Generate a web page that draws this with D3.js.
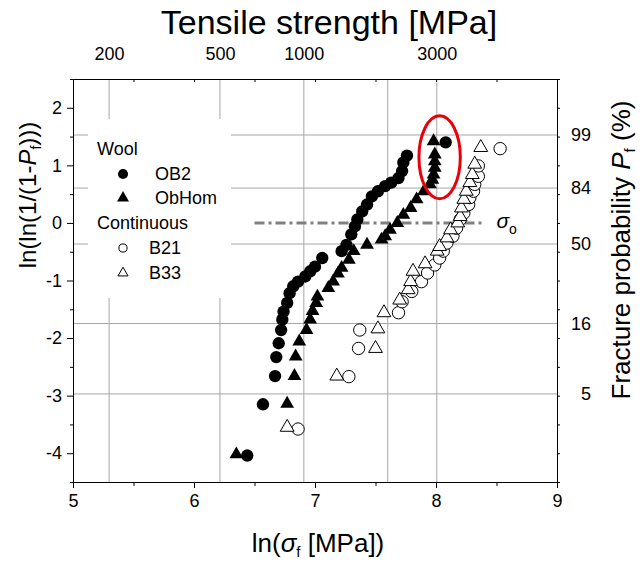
<!DOCTYPE html>
<html>
<head>
<meta charset="utf-8">
<script src="https://cdn.jsdelivr.net/npm/d3@7"></script>
<style>
  body { margin: 0; background: #fff; }
  svg { font-family: "Liberation Sans", Arial, sans-serif; }
  .axis path, .axis line { stroke: #000; stroke-width: 1; }
  .axis text { font-size: 18px; fill: #000; font-family: "Liberation Sans", Arial, sans-serif; }
  .grid line { stroke: #a6a6a6; stroke-width: 1; }
</style>
</head>
<body>
<div id="chart"></div>
<script>
// x = ln(strength in MPa), y = ln(ln(1/(1-Pf)))
var ob2X = [6.44, 6.57, 6.67, 6.68, 6.70, 6.72, 6.73, 6.74, 6.77, 6.79, 6.82, 6.86, 6.92, 6.96, 7.00, 7.06,
            7.22, 7.26, 7.30, 7.33, 7.35, 7.39, 7.43, 7.47, 7.52, 7.58, 7.63, 7.69, 7.72, 7.73, 7.76, 8.08];
var ob2Y = [-4.04, -3.15, -2.66, -2.33, -2.09, -1.86, -1.68, -1.54, -1.39, -1.22, -1.10, -1.02, -0.93, -0.84, -0.76, -0.61,
            -0.49, -0.38, -0.20, -0.06, 0.06, 0.20, 0.32, 0.46, 0.55, 0.64, 0.70, 0.78, 0.90, 1.05, 1.17, 1.40];

var obhomX = [6.35, 6.77, 6.83, 6.84, 6.87, 6.93, 6.96, 6.98, 7.01, 7.02, 7.11, 7.15, 7.19, 7.22, 7.28, 7.32,
              7.43, 7.55, 7.58, 7.62, 7.68, 7.73, 7.79, 7.84, 7.90, 7.95, 7.97, 7.98, 7.99, 7.99, 7.99, 7.98];
var obhomY = [-4.02, -3.14, -2.66, -2.32, -2.06, -1.86, -1.68, -1.53, -1.39, -1.28, -1.13, -1.02, -0.88, -0.78, -0.64, -0.49,
              -0.38, -0.29, -0.23, -0.12, 0.00, 0.14, 0.26, 0.41, 0.55, 0.67, 0.75, 0.84, 0.96, 1.07, 1.19, 1.42];

var b21X = [6.86, 7.28, 7.36, 7.37, 7.69, 7.72, 7.80, 7.88, 7.93, 7.99, 8.03, 8.06,
            8.09, 8.14, 8.17, 8.20, 8.23, 8.27, 8.28, 8.31, 8.32, 8.35, 8.35, 8.53];
var b21Y = [-3.58, -2.67, -2.18, -1.86, -1.56, -1.37, -1.19, -1.02, -0.87, -0.73, -0.61, -0.49,
            -0.35, -0.23, -0.09, 0.06, 0.17, 0.32, 0.44, 0.55, 0.67, 0.81, 0.99, 1.29];

var b33X = [6.77, 7.18, 7.50, 7.52, 7.57, 7.70, 7.77, 7.79, 7.81, 7.91, 8.01, 8.03,
            8.09, 8.12, 8.18, 8.20, 8.21, 8.23, 8.25, 8.28, 8.30, 8.32, 8.37];
var b33Y = [-3.55, -2.66, -2.18, -1.84, -1.56, -1.34, -1.16, -1.02, -0.84, -0.71, -0.49, -0.41,
            -0.26, -0.12, 0.00, 0.11, 0.26, 0.41, 0.55, 0.70, 0.84, 1.02, 1.31];

// top axis (MPa) and right axis (Pf %)
var topLabels = [200, 500, 1000, 3000];
var topGrid = [200, 500, 1000, 2000, 3000];
var probTicks = [99, 84, 50, 16, 5];

// sigma_o line and the marked group
var sigmaLine = {x0: 6.5, x1: 8.4, y: 0};
var mark = {cx: 8.03, cy: 1.14, rx: 0.171, ry: 0.72};

var width = 642, height = 562;
var margin = {top: 79, right: 85, bottom: 80, left: 73};

var svg = d3.select("#chart").append("svg")
    .attr("width", width)
    .attr("height", height);

var x = d3.scaleLinear().domain([5, 9]).range([margin.left, width - margin.right]);
var y = d3.scaleLinear().domain([-4.5, 2.5]).range([height - margin.bottom, margin.top]);

function weib(p) { return Math.log(-Math.log(1 - p / 100)); }

// grid
var grid = svg.append("g").attr("class", "grid");
grid.selectAll(".gv").data(topGrid).enter().append("line")
    .attr("x1", function(d) { return x(Math.log(d)); })
    .attr("x2", function(d) { return x(Math.log(d)); })
    .attr("y1", y(2.5)).attr("y2", y(-4.5));
grid.selectAll(".gh").data(probTicks).enter().append("line")
    .attr("x1", x(5)).attr("x2", x(9))
    .attr("y1", function(d) { return y(weib(d)); })
    .attr("y2", function(d) { return y(weib(d)); });

// legend background hides the grid
svg.append("rect")
    .attr("x", 88).attr("y", 119).attr("width", 143).attr("height", 179)
    .attr("fill", "#fff");

// axes
var halfs = d3.range(-4.5, 2.51, 0.5);
var ints = d3.range(-4, 2.01, 1);

svg.append("g").attr("class", "axis")
    .attr("transform", "translate(" + x(5) + ",0)")
    .call(d3.axisLeft(y).tickValues(halfs.filter(function(d) { return d % 1 !== 0; }))
        .tickSize(3).tickSizeOuter(0).tickFormat(""));
svg.append("g").attr("class", "axis")
    .attr("transform", "translate(" + x(5) + ",0)")
    .call(d3.axisLeft(y).tickValues(ints).tickSize(6).tickSizeOuter(0).tickPadding(5)
        .tickFormat(function(d) { return String(d); }));

svg.append("g").attr("class", "axis")
    .attr("transform", "translate(0," + y(-4.5) + ")")
    .call(d3.axisBottom(x).tickValues([5.5, 6.5, 7.5, 8.5]).tickSize(4).tickSizeOuter(0).tickFormat(""));
svg.append("g").attr("class", "axis")
    .attr("transform", "translate(0," + y(-4.5) + ")")
    .call(d3.axisBottom(x).tickValues([5, 6, 7, 8, 9]).tickSize(6).tickSizeOuter(0).tickPadding(6)
        .tickFormat(d3.format("d")));

svg.append("g").attr("class", "axis")
    .attr("transform", "translate(0," + y(2.5) + ")")
    .call(d3.axisBottom(x).tickValues(d3.range(5.5, 8.51, 0.5)).tickSize(3).tickSizeOuter(0).tickFormat(""));
svg.append("g").attr("class", "axis")
    .attr("transform", "translate(0," + y(2.5) + ")")
    .call(d3.axisTop(x).tickValues(topLabels.map(function(d) { return Math.log(d); }))
        .tickSize(0).tickSizeOuter(0).tickPadding(19)
        .tickFormat(function(d) { return String(Math.round(Math.exp(d))); }))
    .select(".domain").remove();

svg.append("g").attr("class", "axis")
    .attr("transform", "translate(" + x(9) + ",0)")
    .call(d3.axisRight(y).tickValues(halfs).tickSize(3).tickSizeOuter(0).tickFormat(""));
svg.append("g").attr("class", "axis")
    .selectAll("text").data(probTicks).enter().append("text")
    .attr("x", x(9) + 34)
    .attr("y", function(d) { return y(weib(d)); })
    .attr("dy", "0.35em")
    .attr("text-anchor", "end")
    .text(function(d) { return d; });

// titles
svg.append("text")
    .attr("x", 329).attr("y", 34)
    .attr("text-anchor", "middle")
    .style("font-size", "34px")
    .text("Tensile strength [MPa]");

var xt = svg.append("text")
    .attr("x", 318).attr("y", 552)
    .attr("text-anchor", "middle")
    .style("font-size", "26px");
xt.append("tspan").text("ln(");
xt.append("tspan").style("font-style", "italic").text("\u03c3");
xt.append("tspan").attr("dy", 5).style("font-size", "15px").text("f");
xt.append("tspan").attr("dy", -5).text(" [MPa])");

var yt = svg.append("text")
    .attr("transform", "translate(36,195) rotate(-90)")
    .attr("text-anchor", "middle")
    .style("font-size", "24px");
yt.append("tspan").text("ln(ln(1/(1-");
yt.append("tspan").style("font-style", "italic").text("P");
yt.append("tspan").attr("dy", 5).style("font-size", "14px").text("f");
yt.append("tspan").attr("dy", -5).text(")))");

var rt = svg.append("text")
    .attr("transform", "translate(630,250) rotate(-90)")
    .attr("text-anchor", "middle")
    .style("font-size", "26px");
rt.append("tspan").text("Fracture probability ");
rt.append("tspan").style("font-style", "italic").text("P");
rt.append("tspan").attr("dy", 5).style("font-size", "15px").text("f");
rt.append("tspan").attr("dy", -5).text(" (%)");

// sigma_o reference line
svg.append("line")
    .attr("x1", x(sigmaLine.x0)).attr("x2", x(sigmaLine.x1))
    .attr("y1", y(sigmaLine.y)).attr("y2", y(sigmaLine.y))
    .attr("stroke", "#808080").attr("stroke-width", 3)
    .attr("stroke-dasharray", "10,4,3,4");
var so = svg.append("text")
    .attr("x", x(sigmaLine.x1) + 12).attr("y", y(sigmaLine.y) + 5)
    .style("font-size", "21px");
so.append("tspan").style("font-style", "italic").text("\u03c3");
so.append("tspan").attr("dy", 6).style("font-size", "14px").text("o");

// series
function series(xs, ys, type, size, filled) {
  var pts = xs.map(function(d, i) { return [d, ys[i]]; });
  svg.append("g").selectAll("path").data(pts).enter().append("path")
      .attr("transform", function(d) { return "translate(" + x(d[0]) + "," + y(d[1]) + ")"; })
      .attr("d", d3.symbol().type(type).size(size))
      .attr("fill", filled ? "#000" : "#fff")
      .attr("stroke", "#000")
      .attr("stroke-width", filled ? 0 : 1);
}
series(b21X, b21Y, d3.symbolCircle, 120, false);
series(b33X, b33Y, d3.symbolTriangle, 82, false);
series(ob2X, ob2Y, d3.symbolCircle, 120, true);
series(obhomX, obhomY, d3.symbolTriangle, 82, true);

// red ellipse
svg.append("ellipse")
    .attr("cx", x(mark.cx)).attr("cy", y(mark.cy))
    .attr("rx", x(mark.cx + mark.rx) - x(mark.cx))
    .attr("ry", y(mark.cy) - y(mark.cy + mark.ry))
    .attr("fill", "none").attr("stroke", "#e8000b").attr("stroke-width", 3);

// legend
var legend = svg.append("g").style("font-size", "18px");
var items = [
  {label: "Wool", tx: 97, ty: 155},
  {label: "OB2", tx: 155, ty: 180, type: d3.symbolCircle, size: 80, filled: true},
  {label: "ObHom", tx: 155, ty: 204, type: d3.symbolTriangle, size: 62, filled: true},
  {label: "Continuous", tx: 97, ty: 229},
  {label: "B21", tx: 149, ty: 254, type: d3.symbolCircle, size: 52, filled: false},
  {label: "B33", tx: 149, ty: 279, type: d3.symbolTriangle, size: 44, filled: false}
];
items.forEach(function(it) {
  legend.append("text").attr("x", it.tx).attr("y", it.ty).text(it.label);
  if (it.type) {
    legend.append("path")
        .attr("transform", "translate(123," + (it.ty - 6) + ")")
        .attr("d", d3.symbol().type(it.type).size(it.size))
        .attr("fill", it.filled ? "#000" : "#fff")
        .attr("stroke", "#000")
        .attr("stroke-width", it.filled ? 0 : 1);
  }
});
</script>
</body>
</html>
